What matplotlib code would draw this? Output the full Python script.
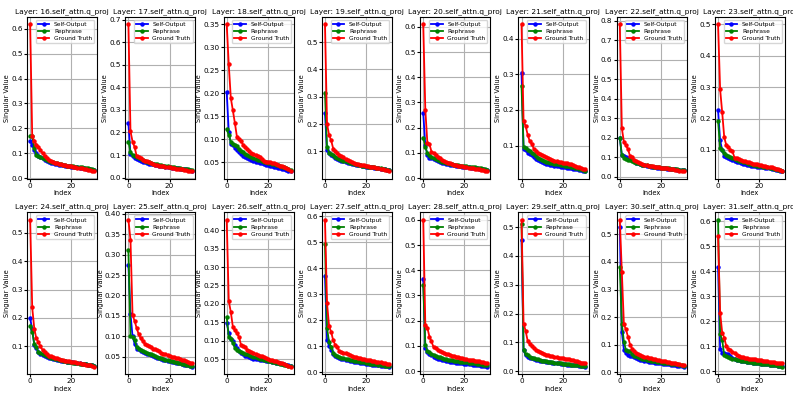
import matplotlib
matplotlib.use("Agg")
from matplotlib import pyplot as plt

# singular values (top 32), one list per layer and series
so16 = [0.15, 0.135, 0.115, 0.10, 0.09, 0.085, 0.08, 0.075, 0.07, 0.067, 0.063, 0.06, 0.058, 0.056, 0.054, 0.052, 0.051, 0.05, 0.048, 0.047, 0.046, 0.045, 0.044, 0.043, 0.042, 0.04, 0.039, 0.038, 0.036, 0.035, 0.033, 0.031]
rp16 = [0.17, 0.17, 0.12, 0.095, 0.09, 0.085, 0.08, 0.077, 0.073, 0.07, 0.067, 0.064, 0.061, 0.059, 0.057, 0.055, 0.053, 0.052, 0.05, 0.049, 0.048, 0.047, 0.046, 0.045, 0.044, 0.043, 0.042, 0.04, 0.039, 0.038, 0.036, 0.034]
gt16 = [0.617, 0.17, 0.15, 0.135, 0.125, 0.115, 0.10, 0.09, 0.08, 0.075, 0.07, 0.066, 0.063, 0.06, 0.058, 0.056, 0.054, 0.052, 0.05, 0.048, 0.047, 0.045, 0.044, 0.042, 0.041, 0.039, 0.037, 0.036, 0.034, 0.032, 0.03, 0.028]

so17 = [0.24, 0.105, 0.095, 0.088, 0.083, 0.078, 0.074, 0.07, 0.067, 0.064, 0.062, 0.06, 0.058, 0.056, 0.054, 0.052, 0.05, 0.049, 0.048, 0.046, 0.045, 0.044, 0.043, 0.042, 0.041, 0.04, 0.039, 0.037, 0.036, 0.034, 0.033, 0.031]
rp17 = [0.16, 0.115, 0.1, 0.095, 0.09, 0.085, 0.081, 0.078, 0.074, 0.071, 0.068, 0.065, 0.062, 0.06, 0.058, 0.056, 0.054, 0.052, 0.05, 0.049, 0.047, 0.046, 0.045, 0.044, 0.042, 0.041, 0.04, 0.039, 0.037, 0.036, 0.034, 0.033]
gt17 = [0.68, 0.205, 0.16, 0.135, 0.095, 0.09, 0.085, 0.08, 0.075, 0.072, 0.068, 0.064, 0.06, 0.057, 0.055, 0.053, 0.051, 0.05, 0.048, 0.046, 0.045, 0.043, 0.042, 0.04, 0.039, 0.037, 0.036, 0.034, 0.032, 0.031, 0.029, 0.028]

so18 = [0.203, 0.117, 0.09, 0.087, 0.082, 0.078, 0.072, 0.068, 0.065, 0.062, 0.059, 0.057, 0.055, 0.053, 0.052, 0.05, 0.049, 0.048, 0.047, 0.045, 0.044, 0.043, 0.042, 0.041, 0.04, 0.039, 0.038, 0.036, 0.035, 0.034, 0.032, 0.031]
rp18 = [0.122, 0.11, 0.095, 0.09, 0.088, 0.086, 0.08, 0.076, 0.072, 0.069, 0.066, 0.063, 0.061, 0.059, 0.058, 0.056, 0.055, 0.053, 0.052, 0.05, 0.049, 0.048, 0.047, 0.046, 0.045, 0.044, 0.043, 0.041, 0.04, 0.038, 0.036, 0.034]
gt18 = [0.35, 0.263, 0.19, 0.163, 0.135, 0.105, 0.10, 0.097, 0.088, 0.083, 0.08, 0.075, 0.07, 0.068, 0.066, 0.065, 0.062, 0.058, 0.054, 0.052, 0.051, 0.05, 0.049, 0.048, 0.046, 0.045, 0.043, 0.042, 0.04, 0.037, 0.035, 0.032]

so19 = [0.24, 0.105, 0.095, 0.088, 0.082, 0.077, 0.073, 0.069, 0.066, 0.063, 0.06, 0.058, 0.056, 0.054, 0.052, 0.05, 0.049, 0.048, 0.046, 0.045, 0.044, 0.043, 0.042, 0.041, 0.04, 0.039, 0.037, 0.036, 0.035, 0.034, 0.032, 0.03]
rp19 = [0.315, 0.115, 0.095, 0.09, 0.085, 0.08, 0.076, 0.072, 0.069, 0.066, 0.063, 0.06, 0.058, 0.056, 0.054, 0.052, 0.05, 0.049, 0.047, 0.046, 0.045, 0.044, 0.043, 0.042, 0.041, 0.04, 0.038, 0.037, 0.036, 0.034, 0.033, 0.031]
gt19 = [0.565, 0.2, 0.16, 0.14, 0.11, 0.1, 0.093, 0.087, 0.082, 0.078, 0.072, 0.068, 0.064, 0.061, 0.058, 0.055, 0.053, 0.051, 0.05, 0.048, 0.046, 0.045, 0.044, 0.042, 0.041, 0.04, 0.038, 0.036, 0.034, 0.032, 0.03, 0.027]

so20 = [0.258, 0.13, 0.09, 0.08, 0.078, 0.074, 0.07, 0.066, 0.063, 0.06, 0.058, 0.056, 0.054, 0.053, 0.051, 0.05, 0.049, 0.048, 0.046, 0.045, 0.044, 0.043, 0.042, 0.041, 0.04, 0.039, 0.038, 0.037, 0.035, 0.034, 0.033, 0.031]
rp20 = [0.16, 0.125, 0.098, 0.09, 0.085, 0.08, 0.076, 0.072, 0.068, 0.065, 0.062, 0.06, 0.058, 0.056, 0.055, 0.053, 0.052, 0.05, 0.049, 0.048, 0.047, 0.046, 0.045, 0.044, 0.043, 0.042, 0.041, 0.04, 0.038, 0.037, 0.035, 0.033]
gt20 = [0.61, 0.272, 0.14, 0.135, 0.105, 0.1, 0.09, 0.085, 0.078, 0.073, 0.068, 0.064, 0.061, 0.058, 0.055, 0.053, 0.051, 0.049, 0.047, 0.046, 0.044, 0.043, 0.041, 0.04, 0.038, 0.037, 0.035, 0.034, 0.032, 0.031, 0.029, 0.027]

so21 = [0.305, 0.09, 0.087, 0.08, 0.077, 0.073, 0.067, 0.063, 0.059, 0.056, 0.053, 0.051, 0.049, 0.048, 0.046, 0.045, 0.044, 0.043, 0.042, 0.041, 0.04, 0.039, 0.038, 0.037, 0.036, 0.035, 0.034, 0.033, 0.032, 0.031, 0.03, 0.028]
rp21 = [0.268, 0.095, 0.093, 0.088, 0.085, 0.08, 0.075, 0.07, 0.066, 0.062, 0.059, 0.057, 0.055, 0.053, 0.052, 0.05, 0.049, 0.048, 0.047, 0.046, 0.045, 0.044, 0.043, 0.042, 0.04, 0.039, 0.037, 0.036, 0.034, 0.033, 0.031, 0.029]
gt21 = [0.44, 0.168, 0.155, 0.13, 0.112, 0.105, 0.09, 0.085, 0.08, 0.077, 0.074, 0.071, 0.068, 0.066, 0.063, 0.06, 0.058, 0.056, 0.055, 0.054, 0.052, 0.051, 0.05, 0.048, 0.047, 0.045, 0.043, 0.041, 0.039, 0.037, 0.035, 0.034]

so22 = [0.2, 0.11, 0.105, 0.1, 0.095, 0.09, 0.085, 0.078, 0.072, 0.068, 0.064, 0.061, 0.058, 0.055, 0.053, 0.051, 0.05, 0.048, 0.047, 0.046, 0.045, 0.043, 0.042, 0.041, 0.04, 0.039, 0.038, 0.037, 0.036, 0.035, 0.034, 0.032]
rp22 = [0.2, 0.11, 0.095, 0.09, 0.087, 0.083, 0.079, 0.075, 0.071, 0.068, 0.065, 0.062, 0.06, 0.058, 0.056, 0.054, 0.052, 0.05, 0.049, 0.048, 0.046, 0.045, 0.044, 0.043, 0.042, 0.041, 0.04, 0.039, 0.037, 0.036, 0.035, 0.033]
gt22 = [0.78, 0.248, 0.178, 0.16, 0.14, 0.105, 0.1, 0.088, 0.08, 0.074, 0.07, 0.066, 0.062, 0.059, 0.057, 0.055, 0.053, 0.051, 0.05, 0.048, 0.046, 0.045, 0.043, 0.042, 0.04, 0.038, 0.037, 0.035, 0.033, 0.031, 0.03, 0.028]

so23 = [0.226, 0.13, 0.1, 0.082, 0.078, 0.075, 0.072, 0.068, 0.065, 0.062, 0.06, 0.058, 0.056, 0.055, 0.053, 0.052, 0.05, 0.049, 0.048, 0.047, 0.046, 0.045, 0.044, 0.043, 0.042, 0.041, 0.04, 0.038, 0.037, 0.035, 0.034, 0.032]
rp23 = [0.193, 0.105, 0.1, 0.09, 0.085, 0.08, 0.078, 0.075, 0.072, 0.069, 0.066, 0.064, 0.062, 0.06, 0.058, 0.056, 0.055, 0.053, 0.052, 0.05, 0.049, 0.048, 0.047, 0.045, 0.044, 0.043, 0.041, 0.04, 0.039, 0.037, 0.035, 0.033]
gt23 = [0.5, 0.293, 0.22, 0.14, 0.115, 0.11, 0.1, 0.095, 0.075, 0.073, 0.07, 0.068, 0.066, 0.064, 0.062, 0.06, 0.058, 0.056, 0.055, 0.054, 0.053, 0.052, 0.05, 0.049, 0.047, 0.046, 0.044, 0.042, 0.04, 0.038, 0.036, 0.034]

so24 = [0.2, 0.16, 0.105, 0.095, 0.08, 0.075, 0.07, 0.066, 0.063, 0.061, 0.059, 0.057, 0.055, 0.053, 0.052, 0.05, 0.049, 0.048, 0.047, 0.046, 0.045, 0.044, 0.043, 0.042, 0.041, 0.04, 0.039, 0.037, 0.036, 0.035, 0.034, 0.032]
rp24 = [0.173, 0.152, 0.11, 0.097, 0.08, 0.077, 0.073, 0.07, 0.067, 0.064, 0.061, 0.059, 0.057, 0.055, 0.053, 0.051, 0.05, 0.048, 0.047, 0.046, 0.044, 0.043, 0.042, 0.041, 0.04, 0.039, 0.038, 0.037, 0.036, 0.035, 0.034, 0.032]
gt24 = [0.545, 0.237, 0.163, 0.128, 0.115, 0.1, 0.088, 0.08, 0.073, 0.068, 0.065, 0.062, 0.06, 0.058, 0.056, 0.054, 0.052, 0.05, 0.049, 0.048, 0.047, 0.045, 0.044, 0.042, 0.041, 0.04, 0.038, 0.036, 0.035, 0.033, 0.031, 0.029]

so25 = [0.275, 0.155, 0.1, 0.082, 0.07, 0.068, 0.065, 0.063, 0.06, 0.058, 0.056, 0.054, 0.052, 0.05, 0.048, 0.046, 0.045, 0.043, 0.042, 0.04, 0.039, 0.038, 0.037, 0.036, 0.035, 0.034, 0.033, 0.031, 0.03, 0.029, 0.028, 0.026]
rp25 = [0.31, 0.102, 0.098, 0.09, 0.075, 0.07, 0.066, 0.064, 0.062, 0.06, 0.058, 0.056, 0.054, 0.052, 0.05, 0.048, 0.046, 0.045, 0.043, 0.042, 0.04, 0.039, 0.038, 0.037, 0.035, 0.034, 0.033, 0.032, 0.031, 0.029, 0.028, 0.027]
gt25 = [0.385, 0.336, 0.152, 0.138, 0.12, 0.105, 0.095, 0.088, 0.082, 0.078, 0.076, 0.073, 0.07, 0.068, 0.066, 0.064, 0.06, 0.058, 0.056, 0.054, 0.052, 0.05, 0.049, 0.047, 0.046, 0.044, 0.043, 0.041, 0.04, 0.038, 0.036, 0.034]

so26 = [0.148, 0.122, 0.105, 0.1, 0.09, 0.08, 0.072, 0.066, 0.063, 0.06, 0.058, 0.055, 0.053, 0.052, 0.051, 0.05, 0.049, 0.048, 0.047, 0.046, 0.045, 0.044, 0.043, 0.042, 0.041, 0.04, 0.039, 0.038, 0.037, 0.035, 0.034, 0.032]
rp26 = [0.165, 0.11, 0.104, 0.095, 0.08, 0.076, 0.072, 0.07, 0.068, 0.065, 0.063, 0.061, 0.059, 0.057, 0.055, 0.053, 0.051, 0.05, 0.048, 0.047, 0.046, 0.044, 0.043, 0.042, 0.041, 0.039, 0.038, 0.037, 0.035, 0.034, 0.032, 0.031]
gt26 = [0.428, 0.208, 0.178, 0.138, 0.128, 0.12, 0.11, 0.088, 0.085, 0.082, 0.076, 0.073, 0.07, 0.067, 0.064, 0.062, 0.06, 0.058, 0.056, 0.054, 0.051, 0.049, 0.047, 0.046, 0.044, 0.042, 0.041, 0.039, 0.037, 0.035, 0.032, 0.03]

so27 = [0.372, 0.125, 0.1, 0.085, 0.07, 0.062, 0.058, 0.055, 0.052, 0.05, 0.048, 0.046, 0.044, 0.042, 0.04, 0.039, 0.037, 0.036, 0.035, 0.034, 0.032, 0.031, 0.03, 0.029, 0.028, 0.027, 0.026, 0.025, 0.024, 0.023, 0.022, 0.021]
rp27 = [0.493, 0.17, 0.115, 0.095, 0.075, 0.065, 0.061, 0.058, 0.056, 0.054, 0.052, 0.05, 0.048, 0.046, 0.044, 0.042, 0.041, 0.04, 0.038, 0.037, 0.035, 0.034, 0.033, 0.032, 0.031, 0.03, 0.029, 0.028, 0.026, 0.025, 0.024, 0.022]
gt27 = [0.587, 0.265, 0.177, 0.155, 0.122, 0.105, 0.095, 0.08, 0.077, 0.075, 0.072, 0.069, 0.066, 0.063, 0.06, 0.058, 0.056, 0.054, 0.052, 0.05, 0.048, 0.046, 0.045, 0.043, 0.042, 0.04, 0.039, 0.037, 0.036, 0.034, 0.032, 0.03]

so28 = [0.367, 0.09, 0.075, 0.068, 0.063, 0.058, 0.054, 0.05, 0.047, 0.045, 0.043, 0.041, 0.04, 0.038, 0.037, 0.035, 0.034, 0.033, 0.032, 0.031, 0.03, 0.029, 0.028, 0.027, 0.026, 0.025, 0.024, 0.023, 0.022, 0.021, 0.02, 0.018]
rp28 = [0.34, 0.105, 0.08, 0.075, 0.07, 0.066, 0.062, 0.058, 0.055, 0.052, 0.05, 0.048, 0.046, 0.045, 0.043, 0.042, 0.041, 0.04, 0.038, 0.037, 0.036, 0.035, 0.034, 0.033, 0.032, 0.031, 0.03, 0.029, 0.027, 0.026, 0.025, 0.023]
gt28 = [0.6, 0.185, 0.172, 0.137, 0.118, 0.095, 0.09, 0.085, 0.08, 0.077, 0.073, 0.07, 0.067, 0.065, 0.062, 0.06, 0.058, 0.056, 0.054, 0.052, 0.05, 0.048, 0.046, 0.045, 0.043, 0.042, 0.04, 0.039, 0.037, 0.036, 0.034, 0.032]

so29 = [0.455, 0.073, 0.055, 0.05, 0.047, 0.045, 0.042, 0.04, 0.038, 0.036, 0.035, 0.034, 0.033, 0.032, 0.031, 0.03, 0.029, 0.028, 0.027, 0.026, 0.025, 0.024, 0.023, 0.023, 0.022, 0.021, 0.02, 0.02, 0.019, 0.018, 0.017, 0.016]
rp29 = [0.51, 0.075, 0.06, 0.055, 0.05, 0.047, 0.045, 0.043, 0.041, 0.039, 0.037, 0.036, 0.034, 0.033, 0.032, 0.031, 0.03, 0.029, 0.028, 0.027, 0.026, 0.025, 0.025, 0.024, 0.023, 0.022, 0.021, 0.021, 0.02, 0.019, 0.018, 0.017]
gt29 = [0.525, 0.165, 0.14, 0.105, 0.095, 0.088, 0.08, 0.075, 0.07, 0.068, 0.065, 0.061, 0.058, 0.056, 0.054, 0.052, 0.05, 0.048, 0.047, 0.046, 0.045, 0.044, 0.043, 0.042, 0.04, 0.038, 0.036, 0.034, 0.032, 0.03, 0.03, 0.029]

so30 = [0.527, 0.145, 0.08, 0.068, 0.063, 0.06, 0.057, 0.054, 0.05, 0.047, 0.045, 0.043, 0.041, 0.04, 0.038, 0.037, 0.036, 0.035, 0.034, 0.033, 0.032, 0.031, 0.03, 0.029, 0.028, 0.027, 0.026, 0.025, 0.024, 0.023, 0.022, 0.02]
rp30 = [0.38, 0.176, 0.11, 0.08, 0.078, 0.075, 0.065, 0.06, 0.057, 0.054, 0.051, 0.049, 0.047, 0.045, 0.043, 0.042, 0.04, 0.039, 0.038, 0.037, 0.036, 0.035, 0.034, 0.033, 0.032, 0.031, 0.03, 0.029, 0.028, 0.026, 0.025, 0.023]
gt30 = [0.553, 0.363, 0.173, 0.155, 0.128, 0.1, 0.085, 0.075, 0.07, 0.066, 0.062, 0.058, 0.056, 0.054, 0.052, 0.05, 0.048, 0.046, 0.045, 0.044, 0.042, 0.04, 0.039, 0.038, 0.037, 0.035, 0.034, 0.032, 0.031, 0.029, 0.027, 0.025]

so31 = [0.417, 0.09, 0.075, 0.072, 0.07, 0.068, 0.06, 0.055, 0.05, 0.047, 0.045, 0.043, 0.041, 0.04, 0.038, 0.037, 0.036, 0.035, 0.034, 0.033, 0.032, 0.031, 0.03, 0.029, 0.028, 0.027, 0.026, 0.025, 0.024, 0.023, 0.022, 0.021]
rp31 = [0.605, 0.148, 0.125, 0.065, 0.06, 0.057, 0.054, 0.051, 0.049, 0.047, 0.045, 0.043, 0.042, 0.04, 0.039, 0.038, 0.036, 0.035, 0.034, 0.033, 0.032, 0.031, 0.03, 0.029, 0.028, 0.027, 0.026, 0.025, 0.024, 0.023, 0.021, 0.019]
gt31 = [0.54, 0.235, 0.155, 0.135, 0.1, 0.09, 0.085, 0.078, 0.072, 0.066, 0.062, 0.058, 0.056, 0.054, 0.052, 0.051, 0.05, 0.049, 0.048, 0.047, 0.046, 0.045, 0.043, 0.042, 0.041, 0.039, 0.038, 0.036, 0.035, 0.034, 0.033, 0.032]

layers = list(range(16, 32))
curves = {
    16: (so16, rp16, gt16), 17: (so17, rp17, gt17), 18: (so18, rp18, gt18), 19: (so19, rp19, gt19),
    20: (so20, rp20, gt20), 21: (so21, rp21, gt21), 22: (so22, rp22, gt22), 23: (so23, rp23, gt23),
    24: (so24, rp24, gt24), 25: (so25, rp25, gt25), 26: (so26, rp26, gt26), 27: (so27, rp27, gt27),
    28: (so28, rp28, gt28), 29: (so29, rp29, gt29), 30: (so30, rp30, gt30), 31: (so31, rp31, gt31),
}
names = ['Self-Output', 'Rephrase', 'Ground Truth']
colors = ['blue', 'green', 'red']

fig, axes = plt.subplots(2, 8, figsize=(7.93, 3.97), dpi=100)
plt.subplots_adjust(left=0.034, right=0.99, top=0.957, bottom=0.058, wspace=0.4, hspace=0.21)

for ax, layer in zip(axes.flat, layers):
    for vals, name, c in zip(curves[layer], names, colors):
        ax.plot(range(len(vals)), vals, marker='o', markersize=2.2, linewidth=1.3, color=c, label=name)
    ax.set_title("Layer: " + str(layer) + ".self_attn.q_proj", fontsize=5.3, pad=3)
    ax.set_xlabel("Index", fontsize=4.8, labelpad=1)
    ax.set_ylabel("Singular Value", fontsize=4.8, labelpad=1)
    ax.tick_params(labelsize=5.2, length=2, pad=1)
    ax.grid(True)
    ax.legend(fontsize=4.2, loc='upper right', borderpad=0.35, labelspacing=0.35)

plt.savefig("out.png", dpi=100)
